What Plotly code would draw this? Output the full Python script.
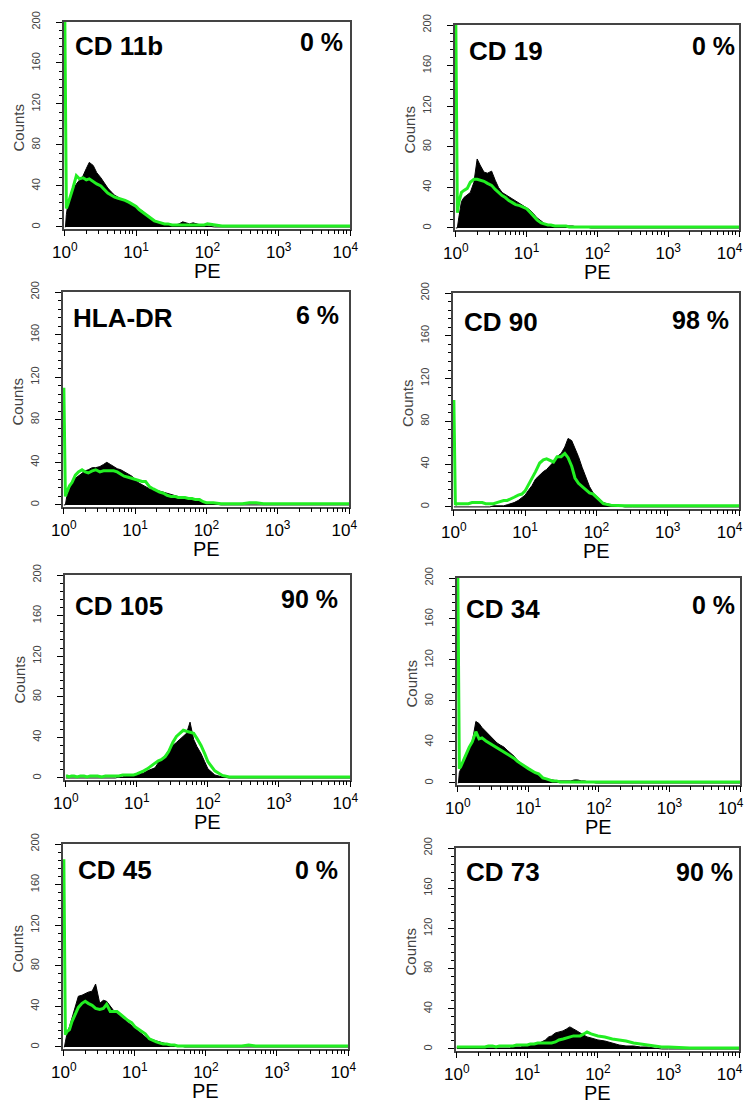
import plotly.graph_objects as go

# PE channel values (log scale) shared by all histograms
PE_CHANNELS = [1, 1.02, 1.05, 1.1, 1.2, 1.3, 1.45, 1.6, 1.8, 2,
               2.2, 2.5, 2.8, 3.2, 3.6, 4, 4.5, 5, 5.6, 6.3,
               7, 8, 9, 10, 11, 12.5, 14, 16, 18, 20,
               22, 25, 28, 32, 36, 40, 45, 50, 56, 63,
               70, 80, 90, 100, 125, 160, 200, 250, 320, 400,
               500, 630, 800, 1000, 2000, 5000, 10000]

# black = filled histogram, green = overlay outline
CD11B_BLACK = [0, 0, 12, 22, 30, 36, 42, 46, 50, 57,
               63, 60, 53, 48, 42, 38, 34, 31, 29, 27,
               25, 23, 21, 20, 18, 15, 12, 9, 6, 5,
               4, 3, 3, 2, 2, 3, 5, 4, 3, 4,
               3, 2, 1, 1, 0, 0, 0, 0, 0, 0,
               0, 0, 0, 0, 0, 0, 0]
CD11B_GREEN = [200, 110, 18, 22, 30, 38, 50, 47, 48, 46,
               47, 44, 42, 40, 36, 33, 31, 29, 28, 27,
               26, 24, 22, 20, 17, 14, 11, 8, 6, 5,
               4, 3, 3, 2, 2, 2, 2, 2, 2, 2,
               2, 2, 2, 3, 2, 1, 1, 1, 1, 1,
               1, 1, 1, 1, 1, 1, 1]

CD19_BLACK = [0, 0, 0, 10, 26, 30, 33, 35, 45, 68,
              62, 55, 54, 56, 47, 40, 35, 33, 31, 28,
              26, 24, 22, 20, 18, 14, 10, 7, 4, 3,
              2, 2, 2, 2, 2, 2, 2, 1, 1, 1,
              1, 0, 0, 0, 0, 0, 0, 0, 0, 0,
              0, 0, 0, 0, 0, 0, 0]
CD19_GREEN = [200, 110, 15, 25, 35, 37, 39, 45, 48, 48,
              47, 46, 44, 42, 38, 35, 32, 30, 27, 25,
              23, 22, 20, 19, 16, 12, 8, 5, 4, 3,
              3, 2, 2, 2, 2, 1, 1, 1, 1, 1,
              1, 1, 1, 1, 1, 1, 1, 1, 1, 1,
              1, 1, 1, 1, 1, 1, 1]

HLADR_BLACK = [0, 0, 0, 8, 15, 20, 25, 27, 30, 32,
               33, 35, 35, 36, 38, 40, 38, 36, 34, 33,
               31, 29, 27, 24, 21, 19, 17, 15, 14, 13,
               13, 12, 11, 10, 9, 8, 7, 6, 6, 5,
               5, 4, 2, 2, 1, 0, 0, 0, 0, 0,
               0, 0, 0, 0, 0, 0, 0]
HLADR_GREEN = [110, 60, 8, 12, 18, 21, 28, 31, 33, 31,
               30, 32, 33, 31, 32, 32, 32, 32, 31, 29,
               27, 26, 25, 24, 23, 22, 22, 17, 15, 13,
               12, 11, 9, 8, 8, 7, 7, 7, 6, 6,
               5, 5, 3, 2, 2, 1, 1, 1, 1, 2,
               2, 1, 1, 1, 1, 1, 1]

CD90_BLACK = [0, 0, 0, 0, 0, 0, 0, 0, 0, 0,
              0, 0, 0, 0, 1, 1, 1, 1, 2, 3,
              4, 6, 9, 11, 15, 20, 26, 30, 33, 35,
              38, 42, 47, 50, 56, 64, 62, 55, 47, 37,
              29, 19, 13, 10, 4, 2, 1, 0, 0, 0,
              0, 0, 0, 0, 0, 0, 0]
CD90_GREEN = [100, 50, 2, 3, 3, 3, 3, 3, 4, 4,
              4, 4, 3, 3, 3, 4, 5, 6, 6, 8,
              9, 11, 12, 15, 20, 26, 33, 41, 44, 45,
              44, 42, 47, 47, 50, 46, 38, 27, 22, 19,
              16, 13, 12, 9, 3, 1.5, 1, 1, 1, 1,
              1, 1, 1, 1, 1, 1, 1]

CD105_BLACK = [0, 0, 0, 0, 0, 0, 0, 0, 0, 0,
               0, 0, 0, 0, 0, 0, 0, 0, 1, 1,
               2, 2, 2, 3, 4, 5, 7, 9, 10, 15,
               18, 22, 27, 32, 35, 38, 41, 44, 55, 38,
               31, 24, 16, 9, 3, 1, 0, 0, 0, 0,
               0, 0, 0, 0, 0, 0, 0]
CD105_GREEN = [2, 2, 2, 1, 2, 2, 1, 2, 2, 1,
               2, 2, 2, 1, 2, 2, 2, 2, 2, 3,
               3, 3, 3, 4, 5, 7, 9, 12, 15, 17,
               18, 21, 26, 35, 41, 44, 47, 46, 45, 44,
               39, 32, 24, 16, 7, 2.5, 1, 1, 1, 1,
               1, 1, 1, 1, 1, 1, 1]

CD34_BLACK = [0, 0, 10, 14, 22, 27, 34, 40, 60, 58,
              54, 50, 47, 43, 39, 37, 35, 32, 29, 26,
              22, 19, 15, 13, 11, 9, 7, 5, 4, 3,
              3, 2, 2, 2, 2, 2, 3, 3, 2, 2,
              1, 1, 0, 0, 0, 0, 0, 0, 0, 0,
              0, 0, 0, 0, 0, 0, 0]
CD34_GREEN = [200, 110, 14, 16, 22, 26, 35, 40, 50, 43,
              44, 41, 39, 36, 34, 32, 30, 28, 26, 24,
              21, 18, 16, 14, 12, 10, 9, 5, 4, 3,
              2, 2, 1, 1, 1, 1, 1, 1, 1, 1,
              1, 1, 1, 1, 1, 1, 1, 1, 1, 1,
              1, 1, 1, 1, 1, 1, 1]

CD45_BLACK = [0, 0, 5, 12, 20, 28, 40, 50, 51, 53,
              54, 55, 62, 43, 46, 45, 40, 36, 33, 30,
              27, 24, 21, 18, 16, 12, 10, 7, 7, 6,
              5, 4, 3, 2, 2, 1, 1, 0, 0, 0,
              0, 0, 0, 0, 0, 0, 0, 0, 0, 0,
              0, 0, 0, 0, 0, 0, 0]
CD45_GREEN = [185, 100, 12, 15, 17, 25, 33, 39, 43, 45,
              43, 41, 38, 37, 38, 42, 35, 35, 35, 32,
              29, 26, 24, 20, 18, 15, 13, 8, 6, 5,
              4, 3, 3, 2, 2, 1, 1, 1, 1, 1,
              1, 1, 1, 1, 1, 1, 1, 1, 1, 2,
              1, 1, 1, 1, 1, 1, 1]

CD73_BLACK = [2, 2, 2, 1, 1, 1, 1, 1, 1, 1,
              1, 1, 1, 1, 1, 1, 1, 1, 1, 2,
              2, 2, 3, 3, 4, 4, 5, 7, 9, 12,
              13, 16, 17, 18, 20, 22, 20, 18, 16, 14,
              12, 11, 10, 9, 8, 6, 4, 3, 3, 2,
              2, 1, 0, 0, 0, 0, 0]
CD73_GREEN = [2, 2, 2, 2, 2, 2, 2, 2, 2, 2,
              2, 2, 3, 3, 2, 3, 3, 3, 3, 3,
              4, 4, 4, 4, 5, 5, 6, 6, 6, 6,
              6, 7, 9, 10, 11, 12, 13, 13, 13, 15,
              17, 15, 14, 13, 12, 10, 9, 8, 6, 5,
              4, 3, 2, 2, 1, 1, 1]

MARKERS = ["CD 11b", "CD 19", "HLA-DR", "CD 90", "CD 105", "CD 34", "CD 45", "CD 73"]
PERCENTS = ["0 %", "0 %", "6 %", "98 %", "90 %", "0 %", "0 %", "90 %"]
BLACK = [CD11B_BLACK, CD19_BLACK, HLADR_BLACK, CD90_BLACK,
         CD105_BLACK, CD34_BLACK, CD45_BLACK, CD73_BLACK]
GREEN = [CD11B_GREEN, CD19_GREEN, HLADR_GREEN, CD90_GREEN,
         CD105_GREEN, CD34_GREEN, CD45_GREEN, CD73_GREEN]

X_TICKS = [1, 10, 100, 1000, 10000]
X_EXP = ["0", "1", "2", "3", "4"]
X_MINOR = [m * d for d in (1, 10, 100, 1000) for m in range(2, 10)]
Y_TICKS = [0, 40, 80, 120, 160, 200]

W, H = 756, 1106
OFF = 8  # page body margin
FONT = "Arial, Liberation Sans, sans-serif"
GREEN_COL = "#22ee22"

# panel frames in page pixels: left, right, top, bottom(zero line)
BOXES = [(64, 350, 22, 227), (455, 739, 25, 228),
         (63, 349, 292, 505), (453, 739, 293, 507),
         (65, 350, 575, 778), (457, 740, 578, 783),
         (63, 348, 844, 1047), (456, 739, 848, 1049)]
# (label dx, label dy, percent dx from right, percent dy) from top-left / top-right
LABEL_POS = [(9, 24, 5, 20), (12, 26, 2, 21), (8, 26, 8, 23), (9, 29, 8, 27),
             (8, 31, 10, 24), (7, 31, 3, 27), (13, 26, 8, 26), (8, 24, 4, 24)]


def px(x):
    return (x - OFF) / W


def py(y):
    return 1 - (y - OFF) / H


fig = go.Figure()
ann = []
for i in range(8):
    l, r, t, b = BOXES[i]
    n = i + 1
    xa = "x" if n == 1 else f"x{n}"
    ya = "y" if n == 1 else f"y{n}"
    fig.add_trace(go.Scatter(x=PE_CHANNELS, y=BLACK[i], xaxis=xa, yaxis=ya, mode="lines",
                             line=dict(color="black", width=1), fill="tozeroy",
                             fillcolor="black", showlegend=False, hoverinfo="skip"))
    fig.add_trace(go.Scatter(x=PE_CHANNELS, y=GREEN[i], xaxis=xa, yaxis=ya, mode="lines",
                             line=dict(color=GREEN_COL, width=3), showlegend=False,
                             hoverinfo="skip"))
    # last label pulled left (as in the source figure), more so in the right column
    pad = "\u00a0" * (2 if i % 2 == 0 else 4)
    ticktext = [f"10<sup>{e}</sup>" for e in X_EXP]
    ticktext[-1] += pad
    kx = "xaxis" if n == 1 else f"xaxis{n}"
    ky = "yaxis" if n == 1 else f"yaxis{n}"
    fig.layout[kx] = dict(
        type="log", range=[-0.012, 4], domain=[px(l), px(r)], anchor=ya, automargin=False,
        tickmode="array", tickvals=X_TICKS, ticktext=ticktext,
        ticks="outside", ticklen=6, tickwidth=1, tickcolor="black",
        minor=dict(tickvals=X_MINOR, ticks="outside", ticklen=4, tickcolor="black"),
        showline=True, mirror=True, linecolor="#444", linewidth=1.5,
        showgrid=False, zeroline=False, ticklabelstandoff=1,
        tickfont=dict(family=FONT, size=17, color="black"))
    fig.layout[ky] = dict(
        range=[-1.5, 200], domain=[py(b + 1.5), py(t)], anchor=xa, automargin=False,
        tickmode="array", tickvals=Y_TICKS, tickangle=-90,
        ticks="outside", ticklen=6, tickwidth=1, tickcolor="black",
        minor=dict(tick0=0, dtick=8, ticks="outside", ticklen=3, tickcolor="black"),
        showline=True, mirror=True, linecolor="#444", linewidth=1.5,
        showgrid=False, zeroline=False, ticklabelstandoff=12,
        tickfont=dict(family=FONT, size=11, color="#444"))

    ldx, ldy, pdx, pdy = LABEL_POS[i]
    ann.append(dict(x=px(l + ldx), y=py(t + ldy), xref="paper", yref="paper",
                    text=f"<b>{MARKERS[i]}</b>", showarrow=False, xanchor="left",
                    yanchor="middle", font=dict(family=FONT, size=26, color="black")))
    ann.append(dict(x=px(r - pdx), y=py(t + pdy), xref="paper", yref="paper",
                    text=f"<b>{PERCENTS[i]}</b>", showarrow=False, xanchor="right",
                    yanchor="middle", font=dict(family=FONT, size=25, color="black")))
    ann.append(dict(x=px((l + r) / 2), y=py(b + 44), xref="paper", yref="paper",
                    text="PE", showarrow=False, xanchor="center", yanchor="middle",
                    font=dict(family=FONT, size=20, color="black")))
    ann.append(dict(x=px(l - 46), y=py((t + b) / 2 + 3), xref="paper", yref="paper",
                    text="Counts", showarrow=False, textangle=-90, xanchor="center",
                    yanchor="middle", font=dict(family=FONT, size=15, color="#444")))

fig.update_layout(width=W, height=H, margin=dict(l=0, r=0, t=0, b=0),
                  paper_bgcolor="white", plot_bgcolor="white", annotations=ann)
fig.write_html("out.html")
